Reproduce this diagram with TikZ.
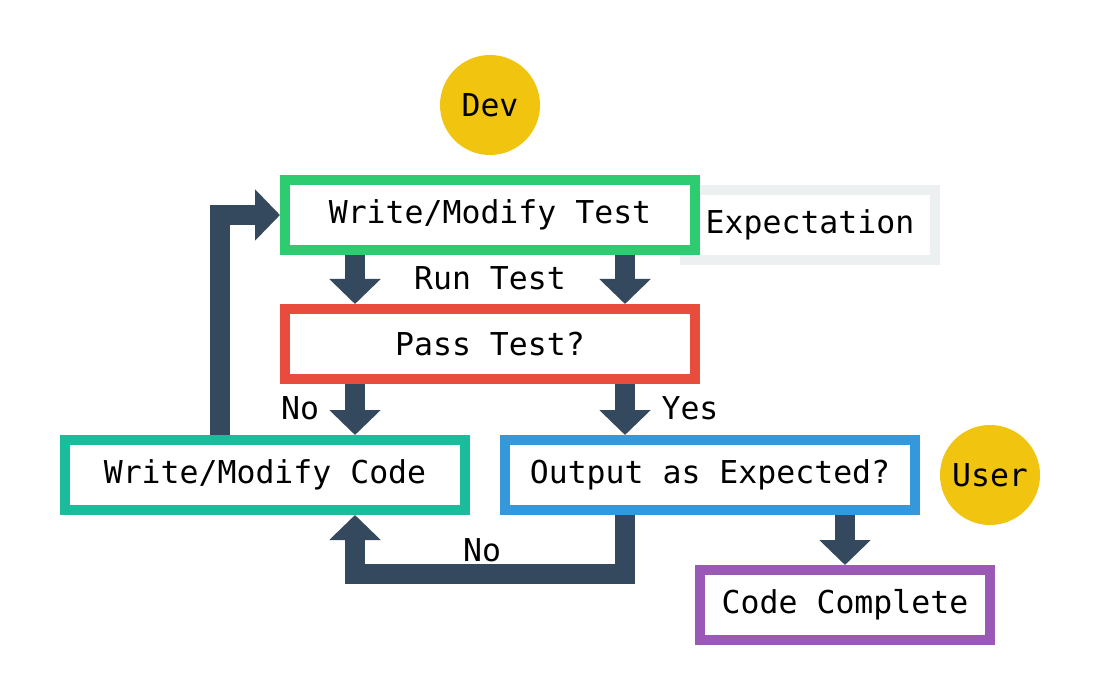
\documentclass[tikz,border=0pt]{standalone}
\usepackage{fontspec}
\setmonofont{DejaVu Sans Mono}
\usetikzlibrary{arrows.meta}
\definecolor{cdark}{HTML}{34495E}
\definecolor{cgreen}{HTML}{2ECC71}
\definecolor{cred}{HTML}{E74C3C}
\definecolor{cteal}{HTML}{1ABC9C}
\definecolor{cblue}{HTML}{3498DB}
\definecolor{cpurple}{HTML}{9B59B6}
\definecolor{cgray}{HTML}{ECF0F1}
\definecolor{cyellow}{HTML}{F1C40F}
\tikzset{
  txt/.style={font=\ttfamily\fontsize{31.5}{36}\selectfont, text=black, inner sep=0pt},
  box/.style={txt, draw=#1, line width=10pt, fill=white, minimum height=70pt},
  actor/.style={txt, circle, fill=cyellow, minimum size=100pt},
  arr/.style={draw=cdark, line width=20pt, line join=miter,
    -{Triangle[length=25pt 0 0, width=50pt 0 0]}},
}
\begin{document}
\begin{tikzpicture}[x=1pt, y=-1pt]
\useasboundingbox (0,0) rectangle (1100,700);
\coordinate (xa) at (355,0);
\coordinate (xb) at (625,0);
\coordinate (xc) at (845,0);
\coordinate (xl) at (220,0);
\coordinate (yb) at (0,574);
\node[actor] (dev) at (490,105) {Dev};
\node[actor] (user) at (990,475) {User};
\node[box=cgray, minimum width=250pt] (exp) at (810,225) {\raisebox{1pt}{Expectation}};
\node[box=cgreen, minimum width=410pt] (wt) at (490,215) {Write/Modify Test};
\node[box=cred, minimum width=410pt] (pt) at (490,344) {Pass Test?};
\node[box=cteal, minimum width=400pt] (wc) at (265,475) {Write/Modify Code};
\node[box=cblue, minimum width=410pt] (oe) at (710,475) {Output as Expected?};
\node[box=cpurple, minimum width=290pt] (cc) at (845,605) {Code Complete};
\draw[arr] (wt.south -| xa) -- (pt.north -| xa);
\draw[arr] (wt.south -| xb) -- (pt.north -| xb);
\draw[arr] (pt.south -| xa) -- (wc.north -| xa);
\draw[arr] (pt.south -| xb) -- (oe.north -| xb);
\draw[arr] (xl |- wc.north) |- (wt.west);
\draw[arr] (oe.south -| xb) -- (xb |- yb) -- (xa |- yb) -- (wc.south -| xa);
\draw[arr] (oe.south -| xc) -- (cc.north -| xc);
\node[txt] (lrun) at (490,278) {Run Test};
\node[txt] (lno1) at (300,408) {No};
\node[txt] (lyes) at (690,408) {Yes};
\node[txt] (lno2) at (482,550) {No};
\end{tikzpicture}
\end{document}
